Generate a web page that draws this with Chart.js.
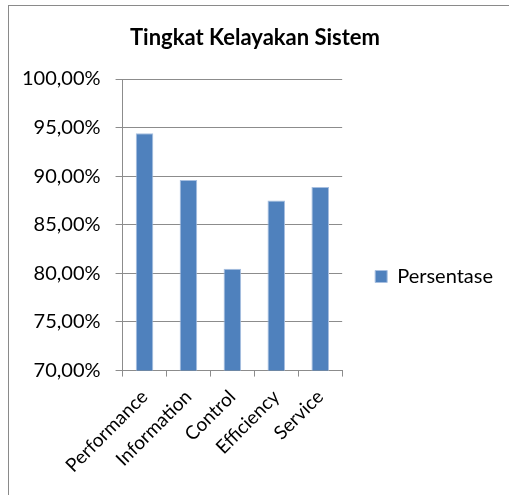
<!DOCTYPE html>
<html>
<head>
<meta charset="utf-8">
<script src="https://cdn.jsdelivr.net/npm/chart.js@4"></script>
<style>
  html, body { margin: 0; padding: 0; background: #fff; }
  #wrap { position: relative; width: 509px; height: 495px; overflow: hidden; }
  #frame { position: absolute; left: 8px; top: 5px; width: 520px; height: 520px; border: 1px solid #8a8a8a; box-sizing: border-box; }
  #chart { position: absolute; left: 0; top: 0; }
</style>
</head>
<body>
<div id="wrap">
  <div id="frame"></div>
  <canvas id="chart" width="509" height="495"></canvas>
</div>
<script>
const categories = ['Performance', 'Information', 'Control', 'Efficiency', 'Service'];
const persentase = [94.42, 89.62, 80.48, 87.50, 88.90];
const yTicks = [70, 75, 80, 85, 90, 95, 100];

const FONT = 'Lato, "Open Sans", sans-serif';
const gridGray = '#8c8c8c';

const fmtPct = v => v.toFixed(2).replace('.', ',') + '%';

new Chart(document.getElementById('chart'), {
  type: 'bar',
  data: {
    labels: categories,
    datasets: [{
      label: 'Persentase',
      data: persentase,
      backgroundColor: '#4f81bd',
      borderColor: '#a7bfe0',
      borderWidth: 1,
      barPercentage: 0.4,
      categoryPercentage: 1.0
    }]
  },
  options: {
    responsive: false,
    animation: false,
    layout: { padding: { left: 7, top: 25, right: 6, bottom: 9 } },
    plugins: {
      title: {
        display: true,
        text: 'Tingkat Kelayakan Sistem',
        color: '#000',
        font: { family: FONT, size: 22, weight: 'bold' },
        padding: { top: 0, bottom: 27.6 }
      },
      legend: {
        position: 'right',
        maxWidth: 170,
        // blank title only pushes the single item down to where the original sits
        title: { display: true, text: ' ', font: { size: 10 }, padding: { top: 0, bottom: 30 } },
        labels: {
          color: '#000',
          font: { family: FONT, size: 20 },
          boxWidth: 12,
          boxHeight: 12,
          padding: 33
        }
      },
      tooltip: { enabled: false }
    },
    scales: {
      x: {
        grid: { offset: true, drawOnChartArea: false, tickLength: 6, color: gridGray },
        border: { color: gridGray },
        ticks: {
          color: '#000',
          font: { family: FONT, size: 19 },
          maxRotation: 45,
          minRotation: 45,
          autoSkip: false,
          padding: 9
        }
      },
      y: {
        min: 70,
        max: 100,
        afterBuildTicks: axis => { axis.ticks = yTicks.map(v => ({ value: v })); },
        grid: { color: gridGray, tickLength: 7 },
        border: { color: gridGray },
        ticks: {
          color: '#000',
          font: { family: FONT, size: 20 },
          padding: 15,
          callback: v => fmtPct(v)
        }
      }
    }
  }
});
</script>
</body>
</html>
